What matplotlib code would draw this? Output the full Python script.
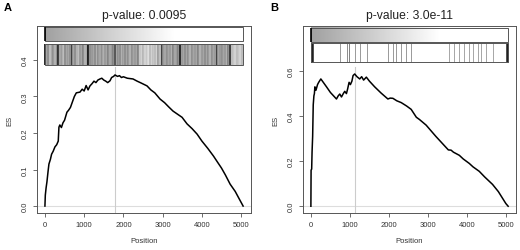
import matplotlib
matplotlib.use("Agg")
import matplotlib.pyplot as plt
import numpy as np
from matplotlib.patches import Rectangle

plt.rcParams['font.family'] = ['Liberation Sans', 'DejaVu Sans']

# ---------------- data ----------------
n_genes = 5050

pos_a = [0, 10, 30, 51, 80, 102, 140, 170, 210, 255, 300, 340, 345, 357, 380, 420, 460, 500,
         561, 600, 650, 700, 750, 800, 893, 950, 1000, 1050, 1100, 1148, 1200, 1250, 1300,
         1350, 1403, 1450, 1500, 1550, 1600, 1658, 1700, 1750, 1786, 1850, 1900, 1950, 2000,
         2100, 2245, 2350, 2450, 2602, 2700, 2800, 2934, 3050, 3150, 3265, 3400, 3495, 3622,
         3750, 3878, 4000, 4150, 4295, 4400, 4500, 4600, 4720, 4850, 4950, 5051]
es_a = [0, 0.03, 0.05, 0.066, 0.095, 0.115, 0.128, 0.142, 0.15, 0.162, 0.168, 0.178, 0.19,
        0.216, 0.222, 0.215, 0.228, 0.235, 0.257, 0.262, 0.27, 0.285, 0.30, 0.31, 0.312, 0.32,
        0.315, 0.33, 0.318, 0.329, 0.335, 0.342, 0.338, 0.345, 0.348, 0.35, 0.345, 0.342,
        0.338, 0.343, 0.352, 0.355, 0.359, 0.355, 0.357, 0.352, 0.354, 0.35, 0.348, 0.342,
        0.337, 0.329, 0.318, 0.31, 0.293, 0.283, 0.272, 0.26, 0.25, 0.243, 0.225, 0.212,
        0.197, 0.178, 0.158, 0.137, 0.12, 0.104, 0.085, 0.06, 0.04, 0.02, 0.0]
peak_a = 1786

pos_b = [0, 5, 20, 30, 45, 60, 77, 90, 102, 130, 170, 200, 255, 400, 500, 655, 700, 740, 783,
         830, 867, 910, 940, 978, 1012, 1050, 1080, 1122, 1180, 1250, 1300, 1350, 1420, 1500,
         1633, 1800, 1972, 2030, 2100, 2200, 2313, 2450, 2568, 2700, 2780, 2951, 3200, 3461,
         3520, 3589, 3650, 3801, 3900, 4056, 4150, 4311, 4450, 4651, 4800, 4992, 5051]
es_b = [0, 0.16, 0.165, 0.24, 0.31, 0.45, 0.49, 0.50, 0.53, 0.515, 0.54, 0.55, 0.565, 0.53,
        0.505, 0.476, 0.49, 0.498, 0.485, 0.50, 0.51, 0.50, 0.52, 0.55, 0.54, 0.555, 0.58,
        0.587, 0.575, 0.565, 0.575, 0.56, 0.573, 0.555, 0.53, 0.502, 0.476, 0.48, 0.479,
        0.468, 0.46, 0.445, 0.43, 0.395, 0.385, 0.36, 0.31, 0.261, 0.25, 0.249, 0.24, 0.226,
        0.21, 0.19, 0.175, 0.155, 0.13, 0.097, 0.065, 0.012, 0.0]
peak_b = 1122

# barcode hits: positions and grey shade (0 = black, 1 = white)
hits_a = [5, 40, 85, 120, 170, 215, 255, 300, 340, 380, 425, 470, 510, 550, 595, 640, 680,
          720, 765, 810, 850, 890, 935, 980, 1020, 1060, 1105, 1150, 1190, 1235, 1276, 1320,
          1361, 1400, 1446, 1490, 1531, 1575, 1616, 1660, 1701, 1745, 1786, 1830, 1871, 1915,
          1956, 2000, 2041, 2085, 2126, 2170, 2211, 2255, 2296, 2340, 2381, 2420, 2466, 2510,
          2551, 2595, 2636, 2680, 2721, 2765, 2806, 2850, 2891, 2935, 2976, 3020, 3061, 3105,
          3146, 3190, 3231, 3275, 3316, 3360, 3400, 3443, 3486, 3530, 3571, 3615, 3656, 3700,
          3741, 3785, 3827, 3870, 3912, 3955, 3997, 4040, 4082, 4125, 4167, 4210, 4252, 4295,
          4337, 4380, 4422, 4465, 4507, 4550, 4592, 4635, 4677, 4720, 4762, 4805, 4847, 4890,
          4932, 4975, 5017]
shade_a = [0.05, 0.6, 0.5, 0.7, 0.6, 0.55, 0.65, 0.5, 0.15, 0.6, 0.55, 0.7, 0.5, 0.6, 0.6,
           0.5, 0.15, 0.6, 0.5, 0.65, 0.7, 0.55, 0.6, 0.5, 0.65, 0.6, 0.05, 0.5, 0.55, 0.6,
           0.5, 0.65, 0.55, 0.6, 0.5, 0.65, 0.55, 0.6, 0.5, 0.6, 0.55, 0.5, 0.25, 0.6, 0.55,
           0.5, 0.65, 0.6, 0.5, 0.6, 0.55, 0.65, 0.5, 0.6, 0.55, 0.6, 0.5, 0.75, 0.8, 0.7,
           0.8, 0.75, 0.85, 0.7, 0.8, 0.75, 0.7, 0.8, 0.6, 0.7, 0.15, 0.55, 0.6, 0.5, 0.6,
           0.55, 0.65, 0.5, 0.6, 0.55, 0.5, 0.05, 0.55, 0.6, 0.5, 0.6, 0.55, 0.65, 0.5, 0.6,
           0.55, 0.6, 0.5, 0.65, 0.55, 0.6, 0.5, 0.6, 0.55, 0.65, 0.5, 0.6, 0.55, 0.15, 0.6,
           0.55, 0.5, 0.6, 0.55, 0.65, 0.5, 0.15, 0.7, 0.75, 0.8, 0.7, 0.75, 0.8, 0.7]

hits_b = [0, 10, 20, 60, 740, 927, 978, 1122, 1250, 1437, 1973, 2100, 2185, 2313, 2440, 2568,
          3546, 3673, 3801, 3929, 4056, 4141, 4269, 4354, 4481, 4651, 4991, 5030, 5045]
shade_b = [0.0, 0.0, 0.1, 0.3, 0.6, 0.55, 0.5, 0.6, 0.6, 0.6, 0.6, 0.6, 0.6, 0.6, 0.6, 0.6,
           0.65, 0.65, 0.65, 0.65, 0.65, 0.65, 0.65, 0.65, 0.65, 0.65, 0.3, 0.1, 0.0]

titles = ["p-value: 0.0095", "p-value: 3.0e-11"]
labels = ["A", "B"]

# ---------------- figure ----------------
W, H = 520, 251
fig = plt.figure(figsize=(W / 100, H / 100), dpi=100)

def px_axes(l, t, r, b):
    return fig.add_axes([l / W, 1 - b / H, (r - l) / W, (b - t) / H])

spine_col = "#555555"
txt_col = "#333333"

panels = [
    dict(rect=(37, 27, 251, 214), pos=pos_a, es=es_a, peak=peak_a, hits=hits_a, shade=shade_a,
         ylim=(-0.019, 0.493), yticks=[0.0, 0.1, 0.2, 0.3, 0.4],
         grad=(0.92, 0.995), bar=(0.79, 0.904), barlw=1.25),
    dict(rect=(303, 27, 516, 214), pos=pos_b, es=es_b, peak=peak_b, hits=hits_b, shade=shade_b,
         ylim=(-0.03, 0.80), yticks=[0.0, 0.2, 0.4, 0.6],
         grad=(0.915, 0.99), bar=(0.81, 0.91), barlw=0.7),
]

for i, p in enumerate(panels):
    ax = px_axes(*p["rect"])
    xt = ax.get_xaxis_transform()
    # zero line and peak line
    ax.axhline(0, color="#dddddd", lw=0.8, zorder=1)
    ax.axvline(p["peak"], ymax=0.78, color="#cccccc", lw=0.8, zorder=1)
    ax.plot(p["pos"], p["es"], color="black", lw=1.1, zorder=3)

    # gradient bar
    g0, g1 = p["grad"]
    grad = np.clip(np.linspace(0, 1, 256) / 0.65, 0, 1)
    vals = 0.63 + 0.37 * grad
    img = np.tile(vals, (2, 1))
    ax.imshow(img, cmap="gray", vmin=0, vmax=1, aspect="auto",
              extent=[0, n_genes, g0, g1], transform=xt, zorder=2,
              interpolation="bilinear")
    ax.add_patch(Rectangle((0, g0), n_genes, g1 - g0, transform=xt, fill=False,
                           ec="#555555", lw=0.7, zorder=4))
    ax.vlines(0, g0, g1, transform=xt, color="black", lw=1.2, zorder=4)

    # barcode
    b0, b1 = p["bar"]
    ax.add_patch(Rectangle((0, b0), n_genes, b1 - b0, transform=xt, fc="white",
                           ec="none", zorder=2))
    for h, s in zip(p["hits"], p["shade"]):
        ax.vlines(h, b0, b1, transform=xt, color=str(s), lw=p["barlw"], zorder=3)
    ax.add_patch(Rectangle((0, b0), n_genes, b1 - b0, transform=xt, fill=False,
                           ec="#555555", lw=0.7, zorder=4))

    ax.set_xlim(-202, 5252)
    ax.set_ylim(*p["ylim"])
    ax.set_xticks([0, 1000, 2000, 3000, 4000, 5000])
    ax.set_yticks(p["yticks"])
    ax.set_yticklabels([f"{v:.1f}" for v in p["yticks"]], rotation=90, va="center")
    ax.tick_params(axis="both", length=3, width=0.6, color=spine_col, labelsize=5.5,
                   labelcolor=txt_col, pad=3)
    for s in ax.spines.values():
        s.set_color(spine_col)
        s.set_linewidth(0.7)
    ax.set_xlabel("Position", fontsize=5.5, color=txt_col, labelpad=6)
    ax.set_ylabel("ES", fontsize=5.5, color=txt_col, labelpad=6)
    ax.set_title(titles[i], fontsize=8.7, color="#222222", pad=6)

    l = p["rect"][0]
    fig.text((l - 33) / W, 1 - 8 / H, labels[i], fontsize=8, fontweight="bold",
             color="black", ha="left", va="center")

fig.savefig("out.png", dpi=100)
